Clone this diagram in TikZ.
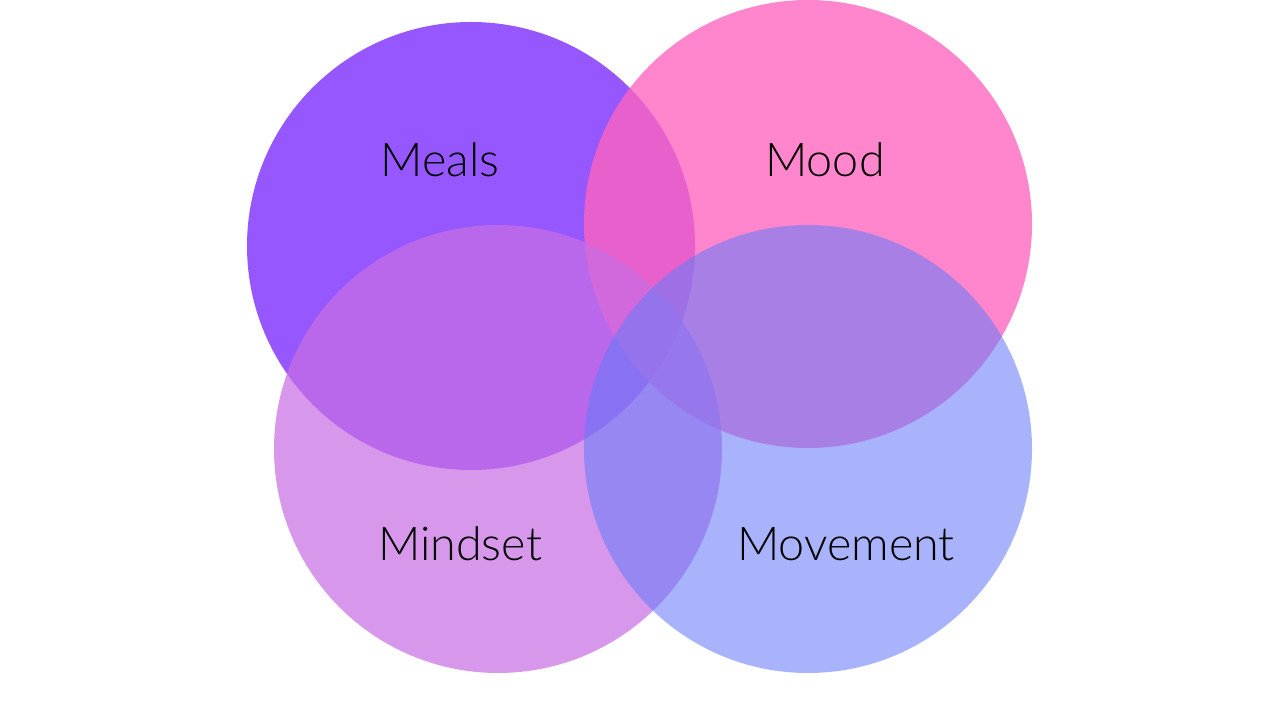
\documentclass[tikz,border=0pt]{standalone}
\usepackage{fontspec}
\setmainfont{Lato}[UprightFont=* Light]
\usepackage{xcolor}
\usepackage{tikz}
\usetikzlibrary{positioning}

\definecolor{mealsc}{HTML}{9757FF}
\definecolor{moodc}{HTML}{FF63BE}
\definecolor{mindsetc}{HTML}{C86EE4}
\definecolor{movementc}{HTML}{667BF9}

\begin{document}
\begin{tikzpicture}[
    x=0.75pt, y=0.75pt,
    every node/.style={font=\fontsize{35}{41}\selectfont, text=black, inner sep=0pt},
    ring/.style={fill=#1},
    word/.style={anchor=base},
]
\useasboundingbox (0,0) rectangle (1280,720);
\fill[white] (0,0) rectangle (1280,720);

% circles, back to front
\fill[ring=mealsc]                      (471,474) circle (224);
\fill[ring=moodc, fill opacity=0.78]    (808,496) circle (224);
\fill[ring=mindsetc, fill opacity=0.71] (498,271) circle (224);
\fill[ring=movementc, fill opacity=0.57](808,271) circle (224);

% labels
\node[word] (meals)    at (440,543) {Meals};
\node[word] (mood)     at (825,543) {Mood};
\node[word] (mindset)  at (460,159) {Mindset};
\node[word] (movement) at (846,159) {Movement};
\end{tikzpicture}
\end{document}
